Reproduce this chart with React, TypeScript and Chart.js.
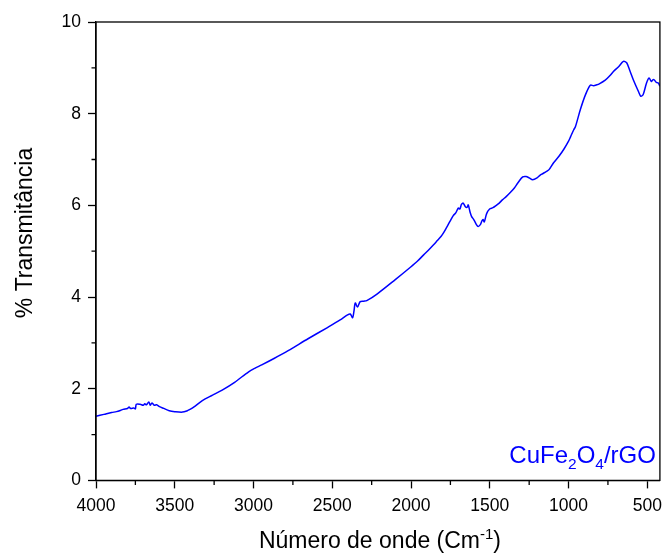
import React, { useEffect, useRef } from "react";
import { Chart, registerables } from "chart.js";

Chart.register(...registerables);

const wavenumbers = [
  4000, 3950, 3901, 3870, 3850, 3828, 3800, 3790, 3780, 3760, 3750, 3744, 3720, 3700, 3690, 3680,
  3665, 3655, 3645, 3630, 3615, 3597, 3570, 3535, 3500, 3451, 3420, 3409, 3380, 3325, 3260, 3199,
  3120, 3031, 2990, 2948, 2870, 2780, 2654, 2528, 2450, 2403, 2386, 2371, 2362, 2354, 2340, 2323,
  2300, 2281, 2214, 2100, 2004, 1960, 1920, 1890, 1857, 1836, 1810, 1794, 1774, 1753, 1731, 1715,
  1700, 1690, 1680, 1669, 1655, 1643, 1637, 1625, 1616, 1600, 1585, 1574, 1560, 1550, 1543, 1535,
  1520, 1501, 1480, 1459, 1440, 1420, 1396, 1370, 1344, 1320, 1291, 1270, 1250, 1228, 1200, 1180,
  1165, 1140, 1124, 1095, 1061, 1029, 1000, 987, 967, 956, 925, 893, 862, 841, 820, 805, 767, 740,
  715, 681, 652, 631, 610, 589, 557, 541, 526, 505, 489, 474, 465, 457, 442, 430, 420,
];

const transmittance = [
  1.4, 1.44, 1.48, 1.5, 1.52, 1.55, 1.57, 1.6, 1.57, 1.58, 1.56, 1.66, 1.66, 1.64, 1.67, 1.65,
  1.71, 1.64, 1.69, 1.64, 1.65, 1.61, 1.57, 1.52, 1.5, 1.49, 1.52, 1.54, 1.6, 1.74, 1.86, 1.97,
  2.14, 2.37, 2.45, 2.52, 2.66, 2.83, 3.09, 3.34, 3.5, 3.61, 3.63, 3.55, 3.7, 3.87, 3.78, 3.9,
  3.91, 3.92, 4.07, 4.38, 4.65, 4.78, 4.92, 5.02, 5.14, 5.22, 5.32, 5.4, 5.52, 5.65, 5.78, 5.84,
  5.94, 5.92, 6.02, 6.05, 5.97, 5.96, 6.01, 5.85, 5.76, 5.68, 5.58, 5.54, 5.58, 5.66, 5.69, 5.64,
  5.82, 5.92, 5.95, 6.0, 6.05, 6.12, 6.19, 6.28, 6.38, 6.5, 6.62, 6.63, 6.6, 6.56, 6.6, 6.66,
  6.69, 6.74, 6.78, 6.93, 7.07, 7.23, 7.4, 7.5, 7.65, 7.72, 8.09, 8.41, 8.62, 8.61, 8.63, 8.65, 8.73, 8.82,
  8.92, 9.03, 9.14, 9.11, 8.93, 8.74, 8.49, 8.38, 8.42, 8.67, 8.78, 8.7, 8.74, 8.74, 8.68, 8.67, 8.6,
];

const xMajorTicks = [4000, 3500, 3000, 2500, 2000, 1500, 1000, 500];
const yMajorTicks = [0, 2, 4, 6, 8, 10];
const xMinorTicks = [3750, 3250, 2750, 2250, 1750, 1250, 750];
const yMinorTicks = [1, 3, 5, 7, 9];

const FONT = '"Liberation Sans", Arial, Helvetica, sans-serif';
const BLUE = "#0000ff";

const framePlugin = {
  id: "frame",
  afterDraw(chart: any) {
    const { ctx, chartArea: a, scales } = chart;
    const xs = scales.x;
    const ys = scales.y;
    ctx.save();
    ctx.strokeStyle = "#000";
    ctx.lineWidth = 1.3;
    ctx.strokeRect(a.left, a.top, a.right - a.left, a.bottom - a.top);
    ctx.beginPath();
    for (const v of xMinorTicks) {
      const px = xs.getPixelForValue(v);
      ctx.moveTo(px, a.bottom);
      ctx.lineTo(px, a.bottom + 4.5);
    }
    for (const v of yMinorTicks) {
      const py = ys.getPixelForValue(v);
      ctx.moveTo(a.left, py);
      ctx.lineTo(a.left - 4.5, py);
    }
    ctx.stroke();

    // sample label
    const main = "24px " + FONT;
    const sub = "15.5px " + FONT;
    const parts: [string, boolean][] = [
      ["CuFe", false],
      ["2", true],
      ["O", false],
      ["4", true],
      ["/rGO", false],
    ];
    let total = 0;
    for (const [t, s] of parts) {
      ctx.font = s ? sub : main;
      total += ctx.measureText(t).width;
    }
    let x = a.right - 4 - total;
    const base = 462.5;
    ctx.fillStyle = BLUE;
    ctx.textBaseline = "alphabetic";
    ctx.textAlign = "left";
    for (const [t, s] of parts) {
      ctx.font = s ? sub : main;
      ctx.fillText(t, x, s ? base + 6 : base);
      x += ctx.measureText(t).width;
    }

    // x axis title with superscript
    ctx.fillStyle = "#000";
    const tMain = "23px " + FONT;
    const tSup = "15px " + FONT;
    const xParts: [string, boolean][] = [
      ["Número de onde (Cm", false],
      ["-1", true],
      [")", false],
    ];
    let tw = 0;
    for (const [t, s] of xParts) {
      ctx.font = s ? tSup : tMain;
      tw += ctx.measureText(t).width;
    }
    let tx = (a.left + a.right) / 2 + 2 - tw / 2;
    const tb = 548;
    for (const [t, s] of xParts) {
      ctx.font = s ? tSup : tMain;
      ctx.fillText(t, tx, s ? tb - 9 : tb);
      tx += ctx.measureText(t).width;
    }

    // y axis title
    ctx.save();
    ctx.translate(32, 233);
    ctx.rotate(-Math.PI / 2);
    ctx.font = tMain;
    ctx.textAlign = "center";
    ctx.textBaseline = "alphabetic";
    ctx.fillText("% Transmitância", 0, 0);
    ctx.restore();

    ctx.restore();
  },
};

export default function App() {
  const ref = useRef<HTMLCanvasElement | null>(null);

  useEffect(() => {
    document.body.style.margin = "0";
    const canvas = ref.current;
    if (!canvas) return;
    const points = wavenumbers.map((w, i) => ({ x: w, y: transmittance[i] }));
    const chart = new Chart(canvas, {
      type: "line",
      data: {
        datasets: [
          {
            data: points,
            borderColor: BLUE,
            borderWidth: 1.5,
            pointRadius: 0,
            fill: false,
            tension: 0.3,
          },
        ],
      },
      options: {
        animation: false,
        responsive: false,
        devicePixelRatio: 1,
        layout: { padding: { top: 22, right: 4, left: 0, bottom: 0 } },
        plugins: {
          legend: { display: false },
          tooltip: { enabled: false },
          title: { display: false },
        },
        scales: {
          x: {
            type: "linear",
            reverse: true,
            min: 420,
            max: 4000,
            afterFit: (s: any) => {
              s.height = 72.6;
            },
            afterBuildTicks: (s: any) => {
              s.ticks = xMajorTicks.map((v) => ({ value: v }));
            },
            grid: {
              display: true,
              drawOnChartArea: false,
              drawTicks: true,
              tickLength: 8,
              tickColor: "#000",
              tickWidth: 1.3,
            },
            border: { display: true, color: "#000", width: 1.3 },
            ticks: {
              color: "#000",
              font: { family: FONT, size: 17.5 },
              padding: 7,
              maxRotation: 0,
              autoSkip: false,
              callback: (v: any) => String(v),
            },
          },
          y: {
            type: "linear",
            min: 0,
            max: 10,
            afterFit: (s: any) => {
              s.width = 96;
            },
            afterBuildTicks: (s: any) => {
              s.ticks = yMajorTicks.map((v) => ({ value: v }));
            },
            grid: {
              display: true,
              drawOnChartArea: false,
              drawTicks: true,
              tickLength: 8,
              tickColor: "#000",
              tickWidth: 1.3,
            },
            border: { display: true, color: "#000", width: 1.3 },
            ticks: {
              color: "#000",
              font: { family: FONT, size: 17.5 },
              padding: 7,
              callback: (v: any) => String(v),
            },
          },
        },
      },
      plugins: [framePlugin],
    });
    return () => chart.destroy();
  }, []);

  return (
    <div style={{ width: 669, height: 553, position: "relative" }}>
      <canvas ref={ref} width={669} height={553} style={{ display: "block" }} />
    </div>
  );
}
